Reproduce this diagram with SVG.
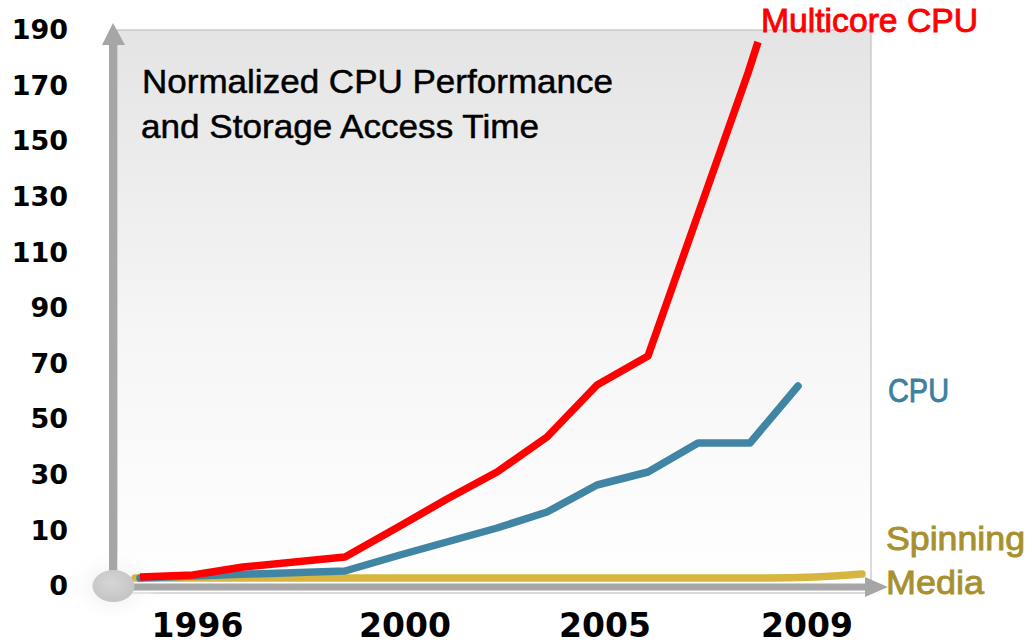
<svg xmlns="http://www.w3.org/2000/svg" width="1032" height="643" viewBox="0 0 1032 643">
  <defs>
    <linearGradient id="bg" x1="0" y1="0" x2="0" y2="1">
      <stop offset="0" stop-color="#e4e4e4"/>
      <stop offset="0.55" stop-color="#f6f6f6"/>
      <stop offset="1" stop-color="#ffffff"/>
    </linearGradient>
    <radialGradient id="glow" cx="0.5" cy="0.5" r="0.5">
      <stop offset="0" stop-color="#e2e2e2" stop-opacity="0.9"/>
      <stop offset="1" stop-color="#ffffff" stop-opacity="0"/>
    </radialGradient>
    <radialGradient id="knob" cx="0.45" cy="0.4" r="0.6">
      <stop offset="0" stop-color="#d6d6d6"/>
      <stop offset="1" stop-color="#c4c4c4"/>
    </radialGradient>
    <style>
      .ylab { font-family: "DejaVu Sans", sans-serif; font-weight: bold; font-size: 27px; fill: #000; text-anchor: end; }
      .xlab { font-family: "DejaVu Sans", sans-serif; font-weight: bold; font-size: 33px; fill: #000; text-anchor: middle; }
      .title { font-family: "Liberation Sans", Arial, sans-serif; font-size: 34px; fill: #000; stroke: #000; stroke-width: 0.5px; }
      .series { font-family: "Liberation Sans", Arial, sans-serif; font-size: 34px; stroke-width: 0.9px; }
      .line { fill: none; stroke-width: 7.5; stroke-linejoin: round; }
      .axis { fill: #a6a6a6; }
    </style>
  </defs>

  <rect width="1032" height="643" fill="#ffffff"/>

  <g id="plot-area">
    <rect x="117" y="30" width="754" height="563" fill="url(#bg)" stroke="#c2c2c2" stroke-width="1.2"/>
  </g>

  <g id="y-labels">
    <text class="ylab" x="68" y="39">190</text>
    <text class="ylab" x="68" y="94.5">170</text>
    <text class="ylab" x="68" y="150">150</text>
    <text class="ylab" x="68" y="206">130</text>
    <text class="ylab" x="68" y="262">110</text>
    <text class="ylab" x="68" y="317">90</text>
    <text class="ylab" x="68" y="373">70</text>
    <text class="ylab" x="68" y="428">50</text>
    <text class="ylab" x="68" y="484">30</text>
    <text class="ylab" x="68" y="540">10</text>
    <text class="ylab" x="68" y="595">0</text>
  </g>

  <g id="x-labels">
    <text class="xlab" x="197.5" y="637">1996</text>
    <text class="xlab" x="405" y="637">2000</text>
    <text class="xlab" x="605" y="637">2005</text>
    <text class="xlab" x="807" y="637">2009</text>
  </g>

  <g id="title">
    <text class="title" x="142" y="93" textLength="471" lengthAdjust="spacingAndGlyphs">Normalized CPU Performance</text>
    <text class="title" x="141" y="138" textLength="398" lengthAdjust="spacingAndGlyphs">and Storage Access Time</text>
  </g>

  <g id="axes">
    <ellipse cx="113.5" cy="586" rx="48" ry="38" fill="url(#glow)"/>
    <rect class="axis" x="109" y="42" width="8" height="544"/>
    <polygon class="axis" points="113,23 125,45 102,45"/>
    <rect class="axis" x="113" y="583.5" width="755" height="7"/>
    <polygon class="axis" points="888,587 865,577 865,597"/>
  </g>

  <g id="connectors">
    <path id="spinning-media-line" class="line" stroke="#d6b63e" stroke-linecap="round" d="M135,578 L767,578 Q815,578 862,574"/>
    <path id="cpu-line" class="line" stroke="#4185a5" stroke-linecap="round" d="M140,578 L220,575 L345,571 L400,555 L497,528 L547,512 L597,485 L648,472 L698,443 L750,443 L798,386"/>
    <path id="multicore-line" class="line" stroke="#ff0000" stroke-linecap="butt" d="M140,577 L193,575 L243,567 L345,557 L400,526 L447,499 L497,472 L547,437 L597,385 L648,356 L748,73 L758,42"/>
  </g>

  <g id="origin">
    <ellipse cx="113.5" cy="586" rx="21" ry="16" fill="url(#knob)"/>
  </g>

  <g id="series-labels">
    <text class="series" x="761" y="32" fill="#ff0000" stroke="#ff0000" textLength="217" lengthAdjust="spacingAndGlyphs">Multicore CPU</text>
    <text class="series" x="888" y="402" fill="#3f7f9f" stroke="#3f7f9f" textLength="61" lengthAdjust="spacingAndGlyphs">CPU</text>
    <text class="series" x="886" y="550" fill="#a8902e" stroke="#a8902e" textLength="139" lengthAdjust="spacingAndGlyphs">Spinning</text>
    <text class="series" x="886" y="594" fill="#a8902e" stroke="#a8902e" textLength="98" lengthAdjust="spacingAndGlyphs">Media</text>
  </g>
</svg>
